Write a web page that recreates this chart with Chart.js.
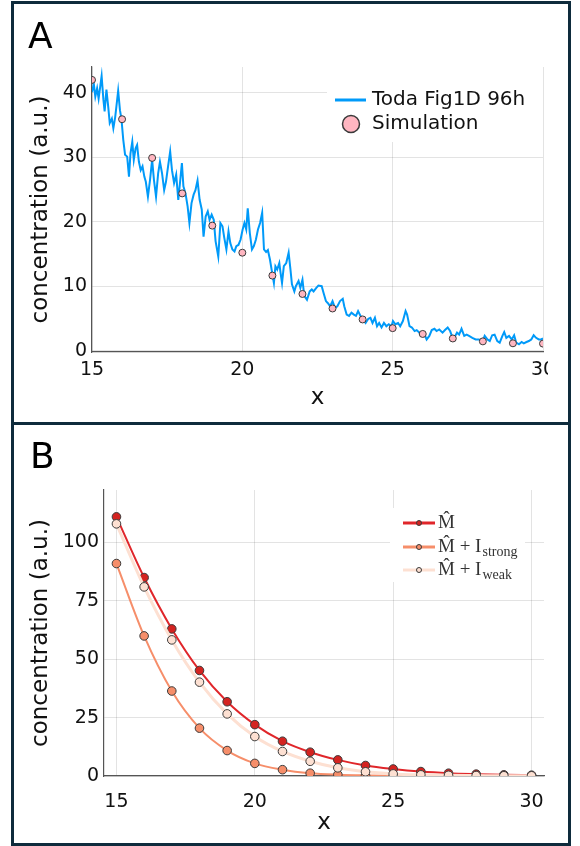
<!DOCTYPE html>
<html>
<head>
<meta charset="utf-8">
<script src="https://cdn.jsdelivr.net/npm/chart.js@4.4.1/dist/chart.umd.min.js"></script>
<style>
  body { margin: 0; width: 580px; height: 846px; position: relative; overflow: hidden; background: #fff; font-family: "DejaVu Sans", sans-serif; }
  .panel { position: absolute; left: 11px; width: 554px; height: 418px; border: 3px solid #0e2b3c; background: #fff; }
  #panelA { top: 1px; }
  #panelB { top: 422px; }
  .tag { position: absolute; left: 14px; top: 14px; font-size: 36px; line-height: 1; color: #000; z-index: 2; }
  canvas { position: absolute; left: 0; top: 0; }
</style>
</head>
<body>
<div class="panel" id="panelA"><div class="tag">A</div><canvas id="chartA" width="534" height="418"></canvas></div>
<div class="panel" id="panelB"><div class="tag" style="left:16px;top:13px">B</div><canvas id="chartB" width="554" height="418"></canvas></div>
<script>
// ---- panel A data
const xTicksA = [15, 20, 25, 30]
const yTicksA = [0, 10, 20, 30, 40]

// Toda Fig1D 96h profile
const todaX = [
  15.00, 15.06, 15.11, 15.17, 15.22, 15.28, 15.32, 15.38, 15.42, 15.48, 15.54, 15.59, 15.66, 15.71, 15.77, 15.81,
  15.87, 15.93, 15.98, 16.04, 16.10, 16.17, 16.23, 16.28, 16.34, 16.39, 16.45, 16.50, 16.56, 16.62, 16.68, 16.74,
  16.79, 16.86, 16.93, 17.00, 17.06, 17.13, 17.20, 17.26, 17.33, 17.40, 17.46, 17.53, 17.60, 17.66, 17.73, 17.80,
  17.87, 17.93, 17.99, 18.04, 18.11, 18.18, 18.24, 18.31, 18.38, 18.44, 18.51, 18.58, 18.65, 18.71, 18.78, 18.85,
  18.91, 18.98, 19.05, 19.11, 19.20, 19.27, 19.34, 19.40, 19.47, 19.54, 19.60, 19.67, 19.74, 19.80, 19.87, 19.94,
  20.01, 20.07, 20.13, 20.18, 20.25, 20.32, 20.38, 20.45, 20.52, 20.59, 20.66, 20.72, 20.79, 20.85, 20.92, 20.99,
  21.05, 21.10, 21.16, 21.23, 21.27, 21.32, 21.38, 21.46, 21.54, 21.60, 21.65, 21.73, 21.78, 21.87, 21.93, 22.00,
  22.06, 22.15, 22.24, 22.31, 22.37, 22.46, 22.53, 22.64, 22.70, 22.78, 22.84, 22.92, 23.00, 23.08, 23.16, 23.25,
  23.34, 23.39, 23.47, 23.55, 23.63, 23.71, 23.78, 23.85, 23.93, 24.02, 24.10, 24.19, 24.26, 24.33, 24.41, 24.48,
  24.55, 24.63, 24.71, 24.79, 24.87, 24.96, 25.01, 25.09, 25.18, 25.25, 25.34, 25.43, 25.48, 25.56, 25.64, 25.73,
  25.80, 25.89, 25.98, 26.06, 26.13, 26.22, 26.30, 26.39, 26.46, 26.55, 26.66, 26.74, 26.83, 26.91, 26.97, 27.05,
  27.14, 27.21, 27.29, 27.38, 27.46, 27.54, 27.65, 27.76, 27.87, 27.98, 28.06, 28.15, 28.23, 28.31, 28.39, 28.48,
  28.56, 28.65, 28.71, 28.78, 28.87, 28.96, 29.04, 29.11, 29.20, 29.29, 29.36, 29.45, 29.53, 29.61, 29.69, 29.77,
  29.86, 29.94, 30.00
]
const todaY = [
  40.1, 41.4, 39.4, 40.7, 39.1, 41.2, 42.6, 38.9, 37.1, 40.5, 37.8, 35.3, 36.0, 34.5, 36.2, 37.8,
  40.3, 37.3, 35.9, 32.7, 30.4, 30.1, 27.0, 30.6, 32.4, 29.6, 31.4, 31.9, 29.3, 28.0, 28.6, 27.0,
  26.2, 23.9, 26.5, 29.6, 26.5, 23.9, 27.5, 29.3, 27.5, 24.9, 26.2, 28.6, 30.9, 28.0, 26.0, 27.3,
  23.4, 26.2, 29.1, 25.5, 24.4, 22.4, 19.8, 22.9, 24.2, 24.9, 26.4, 23.4, 21.9, 17.7, 20.8, 21.6,
  20.3, 21.1, 20.3, 17.0, 14.6, 19.8, 19.3, 17.5, 15.7, 18.5, 16.7, 15.7, 15.4, 16.2, 16.4, 17.2,
  18.8, 19.8, 18.8, 22.1, 18.2, 15.7, 16.2, 17.2, 18.8, 19.8, 21.4, 15.7, 15.3, 15.6, 14.1, 12.1,
  10.5, 13.1, 12.6, 13.6, 12.1, 10.5, 13.1, 13.6, 15.2, 12.6, 10.3, 9.2, 10.0, 10.8, 9.75, 11.0,
  8.5, 7.9, 9.2, 9.5, 9.2, 9.75, 10.1, 10.0, 9.0, 7.7, 7.4, 6.9, 7.7, 6.65, 6.9, 7.7,
  8.05, 6.9, 5.6, 5.4, 5.9, 5.6, 5.4, 6.15, 5.4, 4.85, 4.3, 4.95, 5.1, 4.3, 5.1, 3.8,
  4.3, 3.6, 4.3, 3.8, 4.1, 3.8, 4.6, 4.1, 4.3, 3.8, 4.6, 6.15, 5.6, 3.8, 3.6, 3.05,
  3.2, 2.8, 2.8, 2.5, 1.75, 2.3, 3.2, 3.4, 3.05, 3.3, 2.8, 3.2, 3.6, 3.05, 2.3, 2.0,
  2.8, 2.5, 3.4, 2.3, 2.5, 2.3, 2.0, 1.75, 1.75, 1.35, 2.3, 1.75, 1.5, 2.4, 2.5, 1.5,
  1.25, 2.3, 2.9, 2.0, 2.3, 1.75, 2.4, 1.25, 1.0, 1.35, 1.15, 1.35, 1.5, 1.75, 2.4, 2.0,
  1.75, 1.75, 1.9
]

const simX = [15, 16, 17, 18, 19, 20, 21, 22, 23, 24, 25, 26, 27, 28, 29, 30]
const simY = [42.0, 35.9, 29.9, 24.4, 19.4, 15.2, 11.65, 8.8, 6.55, 4.85, 3.5, 2.6, 1.9, 1.45, 1.15, 1.1]

// ---- panel B data
const xB = [15, 16, 17, 18, 19, 20, 21, 22, 23, 24, 25, 26, 27, 28, 29, 30]
const mHat = [111, 85, 63, 45.2, 31.8, 22, 14.9, 10.2, 6.9, 4.5, 3.0, 1.9, 1.2, 0.8, 0.5, 0.35]
const mStrong = [91, 60, 36.4, 20.5, 10.9, 5.4, 2.7, 1.2, 0.55, 0.25, 0.1, 0.05, 0.02, 0.01, 0, 0]
const mWeak = [108, 81, 58.3, 40.2, 26.6, 16.9, 10.5, 6.3, 3.5, 1.8, 0.9, 0.5, 0.3, 0.2, 0.1, 0.1]
const xTicksB = [15, 20, 25, 30]
const yTicksB = [0, 25, 50, 75, 100]

// colours
const blue = '#009af9'
const pink = '#ffb6c1'
const red = '#e0262a'
const redPt = '#d42320'
const salmon = '#f68e6a'
const pale = '#fde0d2'
const edge = '#3a3a3a'

const sans = '"DejaVu Sans", sans-serif'
const serif = '"Liberation Serif", "DejaVu Serif", serif'

const pts = (xs, ys) => xs.map((x, i) => ({ x, y: ys[i] }))
const fixTicks = list => scale => { scale.ticks = list.map(v => ({ value: v })) }

// legend drawn inside the plot, like Plots.jl does
const insideLegend = {
  id: 'insideLegend',
  afterDatasetsDraw(chart, args, opts) {
    const { ctx } = chart
    const b = opts.box
    ctx.save()
    ctx.fillStyle = '#fff'
    ctx.fillRect(b.x, b.y, b.w, b.h)
    ctx.textBaseline = 'middle'
    ctx.textAlign = 'left'
    opts.items.forEach(it => {
      if (it.line) {
        ctx.strokeStyle = it.line
        ctx.lineWidth = it.lineWidth || 3
        ctx.beginPath()
        ctx.moveTo(opts.lineX[0], it.y)
        ctx.lineTo(opts.lineX[1], it.y)
        ctx.stroke()
      }
      if (it.marker) {
        ctx.beginPath()
        ctx.arc(opts.markX, it.y, it.r, 0, Math.PI * 2)
        ctx.fillStyle = it.marker
        ctx.fill()
        ctx.lineWidth = it.edgeWidth || 1
        ctx.strokeStyle = edge
        ctx.stroke()
      }
      ctx.fillStyle = opts.color || '#111'
      ctx.font = opts.font
      ctx.fillText(it.label, opts.textX, it.y)
      if (it.sub) {
        const w = ctx.measureText(it.label).width
        ctx.font = opts.subFont
        ctx.fillText(it.sub, opts.textX + w + 1, it.y + 5)
      }
    })
    ctx.restore()
  }
}

const axisCommon = {
  grid: { color: 'rgba(0,0,0,0.11)', lineWidth: 1, drawTicks: false },
  border: { display: true, color: '#555', width: 1.2 },
}

// ---- chart A
new Chart(document.getElementById('chartA'), {
  type: 'line',
  data: {
    datasets: [
      {
        label: 'Simulation',
        data: pts(simX, simY),
        showLine: false,
        pointRadius: 3.5,
        pointBackgroundColor: pink,
        pointBorderColor: edge,
        pointBorderWidth: 1,
        order: 0,
      },
      {
        label: 'Toda Fig1D 96h',
        data: pts(todaX, todaY),
        borderColor: blue,
        borderWidth: 2,
        pointRadius: 0,
        tension: 0,
        order: 1,
      },
    ],
  },
  options: {
    responsive: false,
    animation: false,
    events: [],
    layout: { padding: { left: 0, right: 5, top: 63, bottom: 0 } },
    scales: {
      x: {
        ...axisCommon,
        type: 'linear',
        min: 15,
        max: 30,
        afterBuildTicks: fixTicks(xTicksA),
        // let the last label run off the edge, as in the original
        afterFit: s => { s.height = 70; s.paddingRight = 0; s.paddingLeft = 0 },
        ticks: { padding: 7, color: '#111', font: { family: sans, size: 19 } },
        title: { display: true, text: 'x', color: '#111', font: { family: sans, size: 23 }, padding: { top: 0, bottom: 10 } },
      },
      y: {
        ...axisCommon,
        min: -0.2,
        max: 44,
        afterBuildTicks: fixTicks(yTicksA),
        afterFit: s => { s.width = 78 },
        ticks: { padding: 5, color: '#111', font: { family: sans, size: 19 } },
        title: { display: true, text: 'concentration (a.u.)', color: '#111', font: { family: sans, size: 23 }, padding: { top: 13, bottom: 0 } },
      },
    },
    plugins: {
      legend: { display: false },
      tooltip: { enabled: false },
      insideLegend: {
        box: { x: 313, y: 63, w: 216, h: 75 },
        lineX: [321, 352],
        markX: 337,
        textX: 358,
        font: '20px ' + sans,
        items: [
          { label: 'Toda Fig1D 96h', line: blue, lineWidth: 3, y: 96 },
          { label: 'Simulation', marker: pink, r: 8.5, edgeWidth: 1.5, y: 120 },
        ],
      },
    },
  },
  plugins: [insideLegend],
})

// ---- chart B
const seriesB = (label, ys, line, fill, width, order) => ({
  label,
  data: pts(xB, ys),
  borderColor: line,
  borderWidth: width,
  cubicInterpolationMode: 'monotone',
  pointRadius: 4.3,
  pointBackgroundColor: fill,
  pointBorderColor: edge,
  pointBorderWidth: 1,
  order,
})

new Chart(document.getElementById('chartB'), {
  type: 'line',
  data: {
    datasets: [
      seriesB('M\u0302', mHat, red, redPt, 2, 2),
      seriesB('M\u0302 + I strong', mStrong, salmon, salmon, 2, 1),
      seriesB('M\u0302 + I weak', mWeak, pale, pale, 3, 0),
    ],
  },
  options: {
    responsive: false,
    animation: false,
    events: [],
    layout: { padding: { left: 0, right: 24, top: 65, bottom: 0 } },
    scales: {
      x: {
        ...axisCommon,
        type: 'linear',
        min: 14.55,
        max: 30.45,
        afterBuildTicks: fixTicks(xTicksB),
        afterFit: s => { s.height = 67 },
        ticks: { padding: 15, color: '#111', font: { family: sans, size: 19 } },
        title: { display: true, text: 'x', color: '#111', font: { family: sans, size: 23 }, padding: { top: 0, bottom: 6 } },
      },
      y: {
        ...axisCommon,
        min: 0,
        max: 122.5,
        afterBuildTicks: fixTicks(yTicksB),
        afterFit: s => { s.width = 90 },
        ticks: { padding: 5, color: '#111', font: { family: sans, size: 19 } },
        title: { display: true, text: 'concentration (a.u.)', color: '#111', font: { family: sans, size: 23 }, padding: { top: 13, bottom: 0 } },
      },
    },
    plugins: {
      legend: { display: false },
      tooltip: { enabled: false },
      insideLegend: {
        box: { x: 376, y: 83, w: 135, h: 74 },
        lineX: [389, 421],
        markX: 405,
        textX: 424,
        font: '19px ' + serif,
        subFont: '14px ' + serif,
        color: '#333',
        items: [
          { label: 'M\u0302', line: red, lineWidth: 3, marker: redPt, r: 2.5, y: 98 },
          { label: 'M\u0302 + I', sub: 'strong', line: salmon, lineWidth: 3, marker: salmon, r: 2.5, y: 122 },
          { label: 'M\u0302 + I', sub: 'weak', line: pale, lineWidth: 3, marker: pale, r: 2.5, y: 145 },
        ],
      },
    },
  },
  plugins: [insideLegend],
})
</script>
</body>
</html>
